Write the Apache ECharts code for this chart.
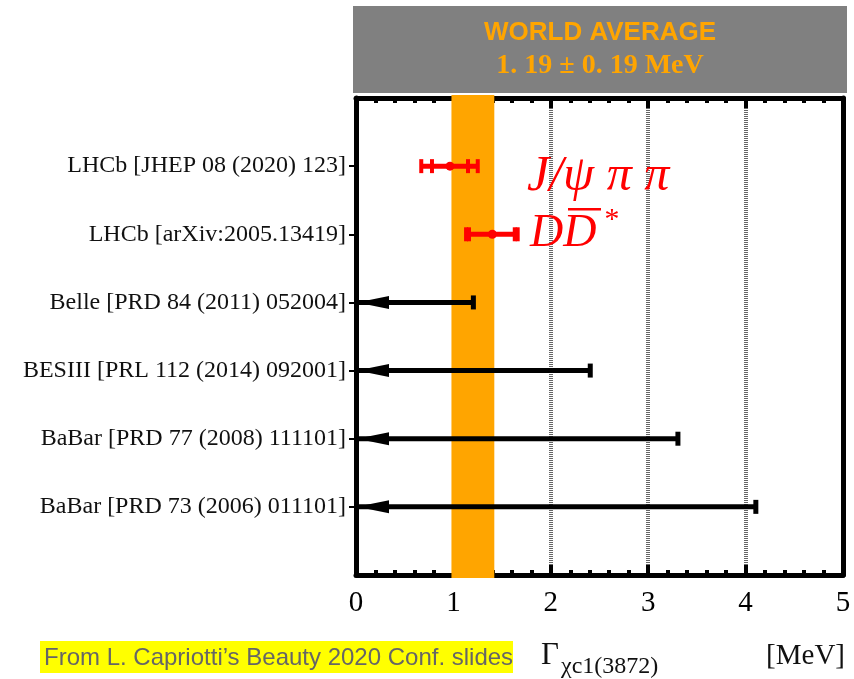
<!DOCTYPE html>
<html>
<head>
<meta charset="utf-8">
<script src="https://cdn.jsdelivr.net/npm/echarts@6/dist/echarts.min.js"></script>
<style>
  html, body { margin: 0; padding: 0; background: #fff; }
  #chart { width: 854px; height: 679px; }
</style>
</head>
<body>
<div id="chart"></div>
<script>
// measurements, top row = 6, bottom row = 1
const labels = {
    6: 'LHCb [JHEP 08 (2020) 123]',
    5: 'LHCb [arXiv:2005.13419]',
    4: 'Belle [PRD 84 (2011) 052004]',
    3: 'BESIII [PRL 112 (2014) 092001]',
    2: 'BaBar [PRD 77 (2008) 111101]',
    1: 'BaBar [PRD 73 (2006) 011101]'
};
const rows = [1, 2, 3, 4, 5, 6];
const xTicks = [0, 1, 2, 3, 4, 5];

// world average band (as drawn)
const band = [0.98, 1.42];

// LHCb points: central, stat range, total range
const lhcbRows = [6, 5];
const lhcbCentral = [0.965, 1.40];
const lhcbStat = [[0.78, 1.15], [1.16, 1.63]];
const lhcbTotal = [[0.67, 1.25], [1.13, 1.66]];

// upper limits
const limitRows = [4, 3, 2, 1];
const limitValues = [1.2, 2.4, 3.3, 4.1];

const chart = echarts.init(document.getElementById('chart'));

const lhcbData = lhcbRows.map(function (r, i) {
    return [lhcbCentral[i], lhcbStat[i][0], lhcbStat[i][1], lhcbTotal[i][0], lhcbTotal[i][1], r];
});
const limitData = limitRows.map(function (r, i) { return [limitValues[i], r]; });

function renderBand(params, api) {
    const cs = params.coordSys;
    const x0 = api.coord([api.value(0), 0])[0];
    const x1 = api.coord([api.value(1), 0])[0];
    return {
        type: 'rect',
        shape: { x: x0, y: cs.y - 3, width: x1 - x0, height: cs.height + 6 },
        style: { fill: '#FFA500' }
    };
}

function renderLhcb(params, api) {
    const y = api.coord([0, api.value(5)])[1];
    const xc = api.coord([api.value(0), 0])[0];
    const caps = [1, 2, 3, 4].map(function (k) {
        const x = api.coord([api.value(k), 0])[0];
        return {
            type: 'rect',
            shape: { x: x - 2, y: y - 7, width: 4, height: 14 },
            style: { fill: '#FF0000' }
        };
    });
    const xl = api.coord([api.value(3), 0])[0];
    const xr = api.coord([api.value(4), 0])[0];
    return {
        type: 'group',
        children: [
            { type: 'rect', shape: { x: xl, y: y - 2.5, width: xr - xl, height: 5 }, style: { fill: '#FF0000' } },
            { type: 'circle', shape: { cx: xc, cy: y, r: 4.5 }, style: { fill: '#FF0000' } }
        ].concat(caps)
    };
}

function renderLimit(params, api) {
    const p0 = api.coord([0, api.value(1)]);
    const p1 = api.coord([api.value(0), api.value(1)]);
    const y = p0[1];
    return {
        type: 'group',
        children: [
            { type: 'rect', shape: { x: p0[0], y: y - 2.5, width: p1[0] - p0[0], height: 5 }, style: { fill: '#000' } },
            { type: 'rect', shape: { x: p1[0] - 2, y: y - 7, width: 5, height: 14 }, style: { fill: '#000' } },
            { type: 'polygon', shape: { points: [[p0[0] + 1, y], [p0[0] + 33, y - 6.5], [p0[0] + 33, y + 6.5]] }, style: { fill: '#000' } }
        ]
    };
}

const frameLine = { show: true, onZero: false, lineStyle: { color: '#000', width: 5 } };

const option = {
    animation: false,
    textStyle: { fontFamily: 'Liberation Serif' },
    grid: { left: 356, right: 11, top: 98, bottom: 104 },
    xAxis: [
        {
            type: 'value', min: 0, max: 5, interval: 1, position: 'bottom',
            axisLine: frameLine,
            axisTick: { show: true, inside: true, length: 10, lineStyle: { color: '#000', width: 4 } },
            minorTick: { show: true, splitNumber: 5, length: 5, lineStyle: { color: '#000', width: 4 } },
            splitLine: { show: true, lineStyle: { color: '#666', width: 4, type: [1, 1] } },
            axisLabel: {
                customValues: xTicks, margin: 14, color: '#000',
                fontFamily: 'Liberation Serif', fontSize: 29
            }
        },
        {
            type: 'value', min: 0, max: 5, interval: 1, position: 'top',
            axisLine: frameLine,
            axisTick: { show: true, inside: true, length: 10, lineStyle: { color: '#000', width: 4 } },
            minorTick: { show: true, splitNumber: 5, length: 5, lineStyle: { color: '#000', width: 4 } },
            splitLine: { show: false },
            axisLabel: { show: false }
        }
    ],
    yAxis: [
        {
            type: 'value', min: 0, max: 7, interval: 1, position: 'left',
            axisLine: frameLine,
            axisTick: { show: true, customValues: rows, length: 7, lineStyle: { color: '#000', width: 2 } },
            splitLine: { show: false },
            axisLabel: {
                customValues: rows, margin: 10, color: '#111',
                fontFamily: 'Liberation Serif', fontSize: 24,
                formatter: function (v) { return labels[v] || ''; }
            }
        },
        {
            type: 'value', min: 0, max: 7, position: 'right',
            axisLine: frameLine,
            axisTick: { show: false }, axisLabel: { show: false }, splitLine: { show: false }
        }
    ],
    series: [
        { type: 'custom', z: 3, silent: true, renderItem: renderBand, data: [band], encode: { x: [0, 1] } },
        { type: 'custom', z: 5, silent: true, renderItem: renderLhcb, data: lhcbData, encode: { x: [0, 1, 2, 3, 4], y: 5 } },
        { type: 'custom', z: 5, silent: true, renderItem: renderLimit, data: limitData, encode: { x: 0, y: 1 } }
    ],
    graphic: [
        { type: 'rect', z: 10, shape: { x: 353, y: 6, width: 494, height: 87 }, style: { fill: '#808080' } },
        { type: 'text', z: 11, x: 600, y: 33, style: { text: 'WORLD AVERAGE', fill: '#FFA500', font: 'bold 26px "Liberation Sans"', align: 'center', verticalAlign: 'middle' } },
        { type: 'text', z: 11, x: 600, y: 66, style: { text: '1. 19 ± 0. 19 MeV', fill: '#FFA500', font: 'bold 28px "Liberation Serif"', align: 'center', verticalAlign: 'middle' } },
        { type: 'text', z: 11, x: 527, y: 177, style: { text: 'J/ψ π π', fill: '#FF0000', font: 'italic 50px "Liberation Serif"', align: 'left', verticalAlign: 'middle' } },
        { type: 'text', z: 11, x: 530, y: 234, style: { text: 'DD', fill: '#FF0000', font: 'italic 46px "Liberation Serif"', align: 'left', verticalAlign: 'middle' } },
        { type: 'rect', z: 11, shape: { x: 568, y: 208, width: 33, height: 2.5 }, style: { fill: '#FF0000' } },
        { type: 'text', z: 11, x: 603, y: 220, style: { text: '*', fill: '#FF0000', font: 'italic 30px "Liberation Serif"', align: 'left', verticalAlign: 'middle' } },
        { type: 'rect', z: 10, shape: { x: 40, y: 641, width: 473, height: 32 }, style: { fill: '#FFFF00' } },
        { type: 'text', z: 11, x: 44, y: 658, style: { text: 'From L. Capriotti\u2019s Beauty 2020 Conf. slides', fill: '#666666', font: '24px "Liberation Sans"', align: 'left', verticalAlign: 'middle' } },
        { type: 'text', z: 11, x: 541, y: 656, style: { text: 'Γ', fill: '#111', font: '31px "Liberation Serif"', align: 'left', verticalAlign: 'middle' } },
        { type: 'text', z: 11, x: 561, y: 667, style: { text: 'χc1(3872)', fill: '#111', font: '24px "Liberation Serif"', align: 'left', verticalAlign: 'middle' } },
        { type: 'text', z: 11, x: 845, y: 656, style: { text: '[MeV]', fill: '#111', font: '29px "Liberation Serif"', align: 'right', verticalAlign: 'middle' } }
    ]
};

chart.setOption(option);
window.addEventListener('resize', function () { chart.resize(); });
</script>
</body>
</html>
